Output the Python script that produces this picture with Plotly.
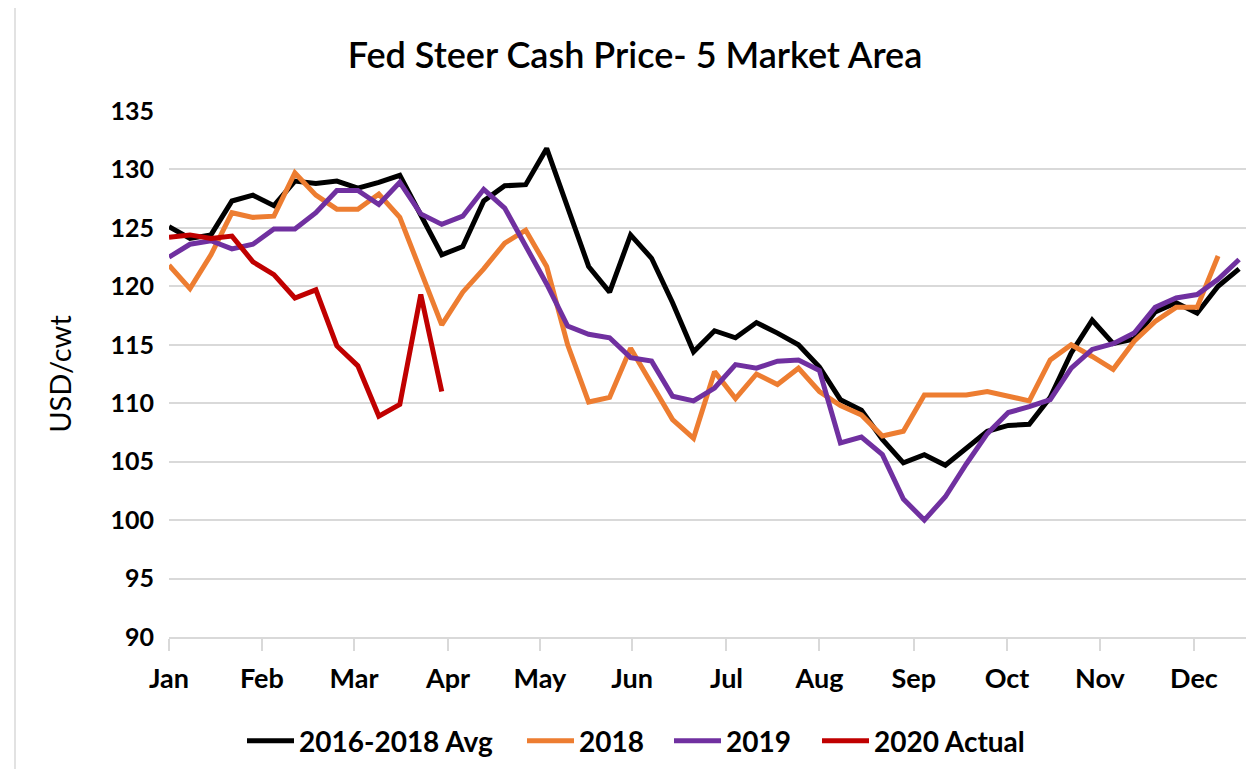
import plotly.graph_objects as go

# week index (0 = first week of January)
weeks = list(range(52))

avg_2016_2018 = [125.1, 124.1, 124.4, 127.3, 127.8, 126.9, 129.0, 128.8, 129.0, 128.4,
                 128.9, 129.5, 126.1, 122.7, 123.4, 127.3, 128.6, 128.7, 131.8, 126.6,
                 121.7, 119.5, 124.4, 122.4, 118.6, 114.4, 116.2, 115.6, 116.9, 116.0,
                 115.0, 113.1, 110.3, 109.4, 106.9, 104.9, 105.6, 104.7, 106.2, 107.6,
                 108.1, 108.2, 110.5, 114.3, 117.1, 115.1, 115.5, 117.8, 118.6, 117.7,
                 120.0, 121.5]

y2018 = [121.8, 119.8, 122.7, 126.3, 125.9, 126.0, 129.7, 127.8, 126.6, 126.6,
         127.9, 125.9, 121.3, 116.7, 119.5, 121.5, 123.7, 124.8, 121.7, 115.0,
         110.1, 110.5, 114.7, 111.6, 108.6, 107.0, 112.7, 110.4, 112.5, 111.6,
         113.0, 111.0, 109.8, 109.0, 107.2, 107.6, 110.7, 110.7, 110.7, 111.0,
         110.6, 110.2, 113.7, 115.0, 114.0, 112.9, 115.3, 117.0, 118.2, 118.2,
         122.6]

y2019 = [122.5, 123.6, 123.9, 123.2, 123.6, 124.9, 124.9, 126.3, 128.2, 128.2,
         127.0, 128.9, 126.2, 125.3, 126.0, 128.3, 126.7, 123.5, 120.2, 116.6,
         115.9, 115.6, 113.9, 113.6, 110.6, 110.2, 111.3, 113.3, 113.0, 113.6,
         113.7, 112.8, 106.6, 107.1, 105.6, 101.8, 100.0, 102.0, 104.8, 107.4,
         109.2, 109.7, 110.3, 113.0, 114.6, 115.1, 116.0, 118.2, 119.0, 119.3,
         120.6, 122.3]

y2020 = [124.2, 124.4, 124.1, 124.3, 122.1, 121.0, 119.0, 119.7, 114.9, 113.2,
         108.9, 109.9, 119.3, 111.0]

month_labels = ["Jan", "Feb", "Mar", "Apr", "May", "Jun",
                "Jul", "Aug", "Sep", "Oct", "Nov", "Dec"]
month_weeks = [0, 4.43, 8.82, 13.3, 17.68, 22.07, 26.57, 31.0, 35.5, 39.94, 44.37, 48.85]

y_ticks = [90, 95, 100, 105, 110, 115, 120, 125, 130, 135]

series_names = ["2016-2018 Avg", "2018", "2019", "2020 Actual"]
series_colors = ["#000000", "#ED7D31", "#7030A0", "#C00000"]
series_values = [avg_2016_2018, y2018, y2019, y2020]

FONT = "Lato"
W, H = 1254, 769
legend_ids = ["legend", "legend2", "legend3", "legend4"]
legend_left_px = [234, 514, 661, 809]

fig = go.Figure()
for name, vals, color, lid in zip(series_names, series_values, series_colors, legend_ids):
    fig.add_trace(go.Scatter(
        x=weeks[:len(vals)], y=vals, name=name, mode="lines",
        line=dict(color=color, width=5),
        legend=lid,
    ))

legend_common = dict(
    orientation="h", xref="container", yref="container",
    xanchor="left", y=1 - 733 / H, yanchor="middle",
    font=dict(size=28, family=FONT, weight="bold", color="#000000"),
    itemwidth=47, bgcolor="rgba(0,0,0,0)", borderwidth=0,
)
legends = {}
for lid, px in zip(legend_ids, legend_left_px):
    legends[lid] = dict(legend_common, x=px / W)

fig.update_layout(
    width=W, height=H,
    paper_bgcolor="white", plot_bgcolor="white",
    margin=dict(l=161, r=16, t=103, b=140),
    font=dict(family=FONT, color="#000000"),
    title=dict(text="Fed Steer Cash Price- 5 Market Area",
               x=0.5, xanchor="center", y=1 - 47 / H, yanchor="middle",
               font=dict(size=36, family=FONT, weight=600, color="#000000")),
    showlegend=True,
    **legends,
)

fig.update_xaxes(
    range=[0, 51.33], tickmode="array", tickvals=month_weeks, ticktext=month_labels,
    showgrid=False, zeroline=False,
    showline=True, linecolor="#D9D9D9", linewidth=1.5,
    ticks="outside", ticklen=12, tickcolor="#D9D9D9", tickwidth=1.5,
    ticklabelstandoff=5,
    tickfont=dict(size=27, family=FONT, weight="bold"),
)
fig.update_yaxes(
    range=[90, 135], tickmode="array", tickvals=y_ticks,
    showgrid=True, gridcolor="#D9D9D9", gridwidth=1.5,
    zeroline=False, showline=False,
    ticklabelstandoff=14,
    tickfont=dict(size=25, family=FONT, weight="bold"),
    title=dict(text="USD/cwt", font=dict(size=29, family=FONT), standoff=30),
)

# chart-area border at left edge
fig.add_shape(type="line", xref="paper", yref="paper",
              x0=-154 / 1077, x1=-154 / 1077, y0=-0.3, y1=1.3,
              line=dict(color="#D9D9D9", width=1.5))

fig.write_html("out.html")
